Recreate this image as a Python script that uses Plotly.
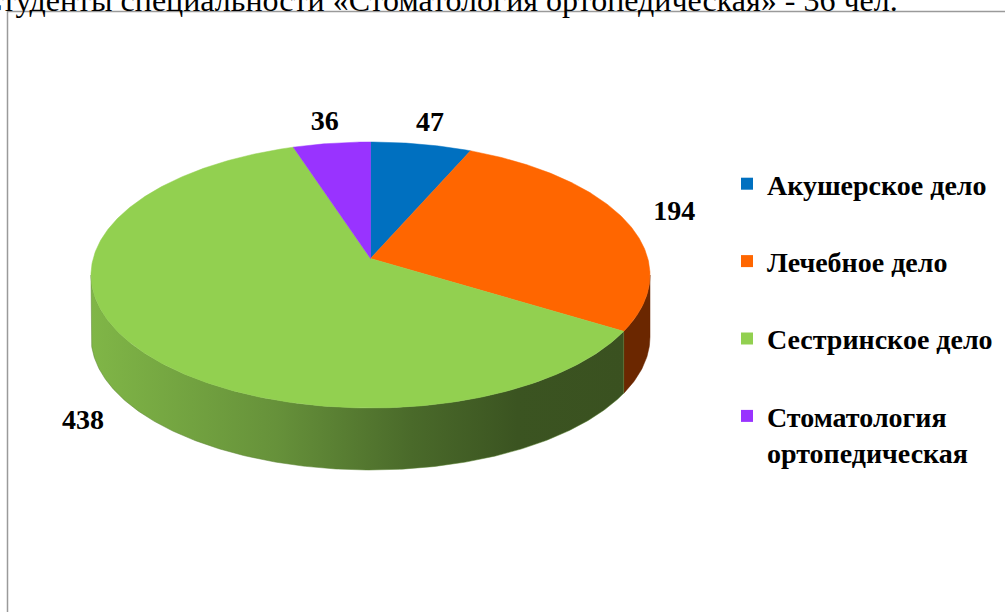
import numpy as np
import plotly.graph_objects as go

# ---- data ----
categories = ["Акушерское дело", "Лечебное дело", "Сестринское дело", "Стоматология<br>ортопедическая"]
values = [47, 194, 438, 36]
colors = ["#0070C0", "#FF6600", "#92D050", "#9933FF"]
side_colors = ["#003A66", "#6B2700", None, "#4D1A80"]
title_text = "Студенты специальности «Стоматология ортопедическая» - 36 чел."

# ---- geometry (pixel space) ----
W, H = 1005, 612
CX, CY, RX, RY, DEPTH = 370.5, 275, 279.5, 133, 62
PERSP = 0.124          # perspective shift of the pie centre towards the back
FONT = "Liberation Serif"


def proj(phi_deg, r=1.0, dy=0.0):
    """Project a point of the (tilted) pie disc, angle clockwise from 12 o'clock."""
    p = np.radians(phi_deg)
    x, y = r * np.sin(p), r * np.cos(p)
    d = 1 + PERSP * y
    xp = x * np.sqrt(1 - PERSP ** 2) / d
    yp = (y + PERSP) / d
    return CX + RX * xp, CY - RY * yp + dy


total = sum(values)
cum = np.concatenate([[0], np.cumsum(values)]) / total * 360.0
side_lo = np.degrees(np.arccos(-PERSP))
side_hi = 360 - side_lo

fig = go.Figure()

# side walls
for i, v in enumerate(values):
    a0, a1 = cum[i], cum[i + 1]
    s0, s1 = max(a0, side_lo), min(a1, side_hi)
    if s1 <= s0:
        continue
    th = np.linspace(s0, s1, max(3, int(s1 - s0) * 2))
    xt, yt = proj(th)
    xb, yb = proj(th[::-1], dy=DEPTH)
    xs = np.concatenate([xt, xb, [xt[0]]])
    ys = np.concatenate([yt, yb, [yt[0]]])
    kw = {}
    if i == 2:
        kw["fillgradient"] = dict(
            type="horizontal",
            colorscale=[[0, "#80B647"], [0.35, "#66913A"], [0.6, "#4A6A2A"],
                        [0.8, "#3B5421"], [1, "#3A5120"]],
        )
        lc = "#5A8232"
    else:
        kw["fillcolor"] = side_colors[i]
        lc = side_colors[i]
    fig.add_trace(go.Scatter(x=xs, y=ys, mode="lines", fill="toself",
                             line=dict(width=0.5, color=lc), showlegend=False,
                             hoverinfo="skip", **kw))

# top faces
ax_, ay_ = proj(0, r=0.0)
for i, v in enumerate(values):
    a0, a1 = cum[i], cum[i + 1]
    th = np.linspace(a0, a1, max(3, int((a1 - a0) * 2)))
    xa, ya = proj(th)
    xs = np.concatenate([[ax_], xa, [ax_]])
    ys = np.concatenate([[ay_], ya, [ay_]])
    fig.add_trace(go.Scatter(x=xs, y=ys, mode="lines", fill="toself",
                             fillcolor=colors[i], line=dict(width=0.5, color=colors[i]),
                             showlegend=False, hoverinfo="skip"))

# data labels (outside end)
mids = (cum[:-1] + cum[1:]) / 2
lx, ly = [], []
for m in mids:
    front = np.cos(np.radians(m)) < 0
    x, y = proj(m, r=1.2, dy=DEPTH * 0.9 if front else 0.0)
    lx.append(x)
    ly.append(y)
fig.add_trace(go.Scatter(x=lx, y=ly, mode="text", text=[f"<b>{v}</b>" for v in values],
                         textfont=dict(family=FONT, size=28, color="#000000"),
                         showlegend=False, hoverinfo="skip"))

# legend entries
for i, c in enumerate(categories):
    fig.add_trace(go.Scatter(x=[None], y=[None], mode="markers", name=f"<b>{c}</b>",
                             legendgroup=f"g{i}",
                             marker=dict(symbol="square", size=13, color=colors[i])))

fig.update_layout(
    width=W, height=H,
    margin=dict(l=0, r=0, t=0, b=0),
    paper_bgcolor="white", plot_bgcolor="white",
    xaxis=dict(range=[0, W], visible=False, fixedrange=True),
    yaxis=dict(range=[H, 0], visible=False, fixedrange=True),
    legend=dict(x=727 / W, y=1 - 159 / H, xanchor="left", yanchor="top",
                font=dict(family=FONT, size=28, color="#000000"),
                tracegroupgap=38, itemsizing="constant", valign="top",
                bgcolor="rgba(0,0,0,0)"),
    shapes=[dict(type="rect", xref="x", yref="y", x0=7.5, y0=11.5, x1=W + 20, y1=H + 20,
                 line=dict(color="#9A9A9A", width=1.5), fillcolor="rgba(0,0,0,0)", layer="below")],
    annotations=[dict(text=title_text, xref="x", yref="y",
                      x=900, y=20, xanchor="right", yanchor="bottom",
                      showarrow=False, font=dict(family=FONT, size=32, color="#000000"))],
)

fig.write_html("out.html", config={"displayModeBar": False},
               post_script="document.body.style.margin='0px';")
